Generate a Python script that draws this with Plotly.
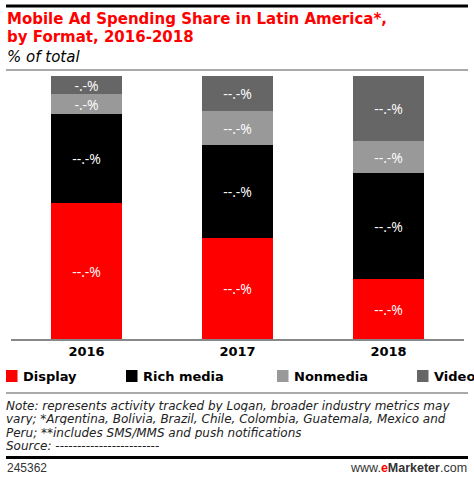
import plotly.graph_objects as go

years = ["2016", "2017", "2018"]
series_names = ["Display", "Rich media", "Nonmedia", "Video"]
display = [51.7, 38.3, 22.9]
rich_media = [33.7, 35.5, 40.3]
nonmedia = [7.7, 13.0, 11.9]
video = [6.9, 13.2, 24.9]
display_labels = ["--.-%", "--.-%", "--.-%"]
rich_labels = ["--.-%", "--.-%", "--.-%"]
nonmedia_labels = ["-.-%", "--.-%", "--.-%"]
video_labels = ["-.-%", "--.-%", "--.-%"]
note_lines = [
    "Note: represents activity tracked by Logan, broader industry metrics may",
    "vary; *Argentina, Bolivia, Brazil, Chile, Colombia, Guatemala, Mexico and",
    "Peru; **includes SMS/MMS and push notifications",
    "Source: ------------------------",
]

colors = ["#ff0000", "#000000", "#999999", "#666666"]
values = [display, rich_media, nonmedia, video]
labels = [display_labels, rich_labels, nonmedia_labels, video_labels]

fig = go.Figure()
for name, vals, txt, col in zip(series_names, values, labels, colors):
    fig.add_trace(go.Bar(
        x=years, y=vals, name=name, marker=dict(color=col, line=dict(width=0)),
        text=txt, textposition="inside", insidetextanchor="middle",
        textangle=0, constraintext="none",
        textfont=dict(color="white", size=14, family="Open Sans"),
        width=0.47, showlegend=False, hoverinfo="skip",
    ))

W, H = 474, 480
ml, mr, mt, mb = 11, 10, 76, 141

def py(y):
    return 1 - (y - mt) / (H - mt - mb)

def px(x):
    return (x - ml) / (W - ml - mr)

shapes = []
annotations = []
shapes.append(dict(type="line", xref="paper", yref="paper", x0=px(6), x1=px(468), y0=py(6), y1=py(6),
                   line=dict(color="black", width=3)))
shapes.append(dict(type="line", xref="paper", yref="paper", x0=px(6), x1=px(468), y0=py(70), y1=py(70),
                   line=dict(color="#555555", width=1)))
shapes.append(dict(type="line", xref="paper", yref="paper", x0=px(6), x1=px(468), y0=py(393), y1=py(393),
                   line=dict(color="#555555", width=1)))
shapes.append(dict(type="line", xref="paper", yref="paper", x0=px(6), x1=px(468), y0=py(457.5), y1=py(457.5),
                   line=dict(color="black", width=3)))

annotations.append(dict(xref="paper", yref="paper", x=px(5), y=py(19), xanchor="left", yanchor="middle",
                        text="<b>Mobile Ad Spending Share in Latin America*,</b>",
                        showarrow=False, align="left",
                        font=dict(family="DejaVu Sans", size=15, color="#ff0000")))
annotations.append(dict(xref="paper", yref="paper", x=px(5), y=py(37), xanchor="left", yanchor="middle",
                        text="<b>by Format, 2016-2018</b>",
                        showarrow=False, align="left",
                        font=dict(family="DejaVu Sans", size=15, color="#ff0000")))
annotations.append(dict(xref="paper", yref="paper", x=px(5), y=py(57), xanchor="left", yanchor="middle",
                        text="<i>% of total</i>", showarrow=False, align="left",
                        font=dict(family="DejaVu Sans", size=15, color="black")))

leg_x = [6, 126, 277, 417]
for name, col, lx in zip(series_names, colors, leg_x):
    shapes.append(dict(type="rect", xref="paper", yref="paper", x0=px(lx), x1=px(lx + 11.5),
                       y0=py(382), y1=py(370), fillcolor=col, line=dict(width=0)))
    annotations.append(dict(xref="paper", yref="paper", x=px(lx + 15), y=py(376), xanchor="left",
                            yanchor="middle", text="<b>" + name + "</b>", showarrow=False,
                            font=dict(family="DejaVu Sans", size=13, color="black")))

note_y = [405, 418.5, 432, 445.5]
for line, ny in zip(note_lines, note_y):
    annotations.append(dict(xref="paper", yref="paper", x=px(5), y=py(ny), xanchor="left", yanchor="middle",
                            text="<i>" + line + "</i>", showarrow=False, align="left",
                            height=13, valign="middle", borderpad=0,
                            font=dict(family="DejaVu Sans", size=12, color="#222222")))
annotations.append(dict(xref="paper", yref="paper", x=px(5), y=py(468), xanchor="left", yanchor="middle",
                        text="245362", showarrow=False,
                        font=dict(family="Liberation Sans", size=12, color="#333333")))
annotations.append(dict(xref="paper", yref="paper", x=px(469), y=py(468), xanchor="right", yanchor="middle",
                        text="www.<b><span style='color:#ff0000'>e</span>Marketer</b>.com", showarrow=False,
                        font=dict(family="Liberation Sans", size=12.5, color="#333333")))

fig.update_layout(
    barmode="stack", width=W, height=H,
    margin=dict(l=ml, r=mr, t=mt, b=mb),
    plot_bgcolor="white", paper_bgcolor="white",
    bargap=0,
    xaxis=dict(showline=True, linecolor="#888888", linewidth=1.5, ticks="", showgrid=False,
               tickfont=dict(family="DejaVu Sans", size=13, color="black"),
               tickprefix="<b>", ticksuffix="</b>", range=[-0.5, 2.5]),
    yaxis=dict(visible=False, range=[0, 100], showgrid=False),
    shapes=shapes, annotations=annotations,
)
fig.write_html("out.html", config={"displayModeBar": False},
               post_script="document.body.style.margin='0';document.body.style.overflow='hidden';")
